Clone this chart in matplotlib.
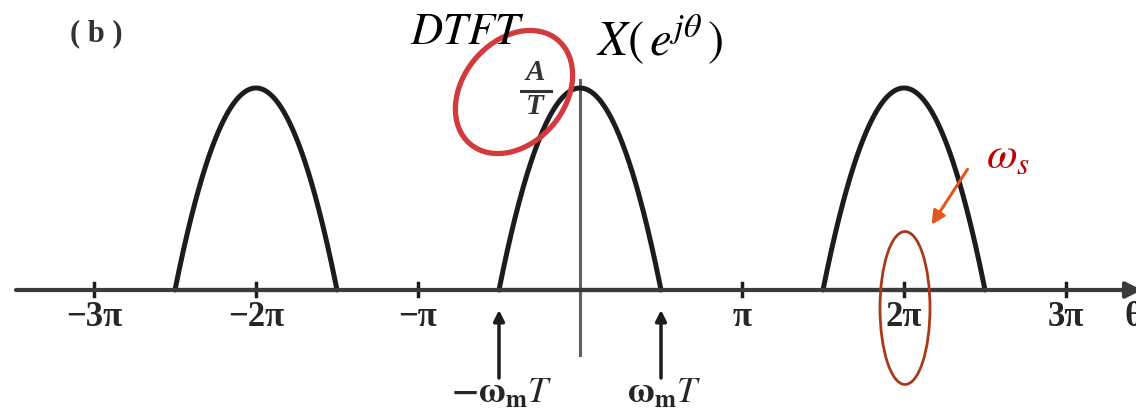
import numpy as np
import matplotlib
matplotlib.use("Agg")
import matplotlib.pyplot as plt
from matplotlib.patches import Ellipse, FancyArrowPatch

plt.rcParams["mathtext.fontset"] = "stix"

# spectrum: replicas of the baseband hump, centres in units of pi
centres = [-2.0, 0.0, 2.0]
peak = 1.0            # A/T
half_width = 0.5      # omega_m T, in units of pi
tick_pos = [-3, -2, -1, 1, 2, 3]
tick_txt = ["\u22123\u03c0", "\u22122\u03c0", "\u2212\u03c0", "\u03c0", "2\u03c0", "3\u03c0"]

W, H = 1136, 411
fig = plt.figure(figsize=(W / 100, H / 100), dpi=100)
ax = fig.add_axes([0, 0, 1, 1])
px_x, px_y = 162.0, 202.0          # pixels per pi, pixels per A/T
x0, y0 = 580.0, 290.0              # origin in pixels (from top-left)
ax.set_xlim(-x0 / px_x, (W - x0) / px_x)
ax.set_ylim(-(H - y0) / px_y, y0 / px_y)
ax.axis("off")

ink = "#1c1c1c"
serif = "Liberation Serif"
# horizontal axis with arrow
ax.annotate("", xy=((W + 6 - x0) / px_x, 0), xytext=((16 - x0) / px_x, 0),
            annotation_clip=False,
            arrowprops=dict(arrowstyle="-|>", color="#3a3a3a", lw=3,
                            mutation_scale=24, shrinkA=0, shrinkB=0))
# vertical axis
ax.plot([0, 0], [-65 / px_y, (y0 - 80) / px_y], color="#606060", lw=2.2)

# humps
for c in centres:
    t = np.linspace(-half_width, half_width, 200)
    y = peak * (1 - (t / half_width) ** 2)
    ax.plot(c + t, y, color=ink, lw=3.6, solid_capstyle="round")
    ax.plot([c - half_width, c + half_width], [0, 0], color=ink, lw=3)

# ticks and labels
for p, s in zip(tick_pos, tick_txt):
    ax.plot([p, p], [-6 / px_y, 7 / px_y], color=ink, lw=2.5)
    ax.text(p, -11 / px_y, s, ha="center", va="top", fontsize=25,
            fontfamily=serif, fontweight="bold", color="#262626")
ax.text((1124 - x0) / px_x, -11 / px_y, "\u03b8", ha="left", va="top",
        fontsize=25, fontfamily=serif, fontweight="bold", color="#262626")

# omega_m T markers
for sgn, lab, lx in [(-1, r"$\mathbf{-\omega_m}\mathbf{\mathit{T}}$", 502),
                     (1, r"$\mathbf{\omega_m}\mathbf{\mathit{T}}$", 664)]:
    ax.annotate("", xy=(sgn * half_width, -20 / px_y), xytext=(sgn * half_width, -88 / px_y),
                arrowprops=dict(arrowstyle="-|>", color=ink, lw=2.5,
                                mutation_scale=16, shrinkA=0, shrinkB=0))
    ax.text((lx - x0) / px_x, -103 / px_y, lab, ha="center", va="center",
            fontsize=26, color="#262626")

# peak label A/T
ax.text((535 - x0) / px_x, (y0 - 72) / px_y, "A", ha="center", va="center",
        fontsize=21, fontfamily=serif, fontweight="bold", fontstyle="italic", color="#333333")
ax.plot([(521 - x0) / px_x, (551 - x0) / px_x], [(y0 - 91) / px_y] * 2, color="#333333", lw=2.2)
ax.text((535 - x0) / px_x, (y0 - 106) / px_y, "T", ha="center", va="center",
        fontsize=21, fontfamily=serif, fontweight="bold", fontstyle="italic", color="#333333")

# titles / captions
fig.text(96 / W, 1 - 34 / H, "( b )", ha="center", va="center", fontsize=22,
         fontfamily=serif, fontweight="bold", color="#333333")
fig.text(467 / W, 1 - 32 / H, r"$DTFT$", ha="center", va="center", fontsize=32, color="black")
fig.text(660 / W, 1 - 40 / H, r"$X\left(\,e^{j\theta}\,\right)$", ha="center", va="center",
         fontsize=35, color="black")
fig.text(1008 / W, 1 - 156 / H, r"$\omega_s$", ha="center", va="center",
         fontsize=32, color="#c00000")

# hand-drawn style highlights in pixel coordinates
ov = fig.add_axes([0, 0, 1, 1])
ov.set_xlim(0, W)
ov.set_ylim(0, H)
ov.axis("off")
ov.add_patch(Ellipse((514, H - 92), 136, 102, angle=50, fill=False,
                     ec="#d23a3e", lw=3.8))
ov.add_patch(Ellipse((905, H - 308), 50, 153, fill=False, ec="#a83a1a", lw=2))
ov.add_patch(FancyArrowPatch((969, H - 167), (930, H - 227), arrowstyle="-|>",
                             mutation_scale=20, color="#e0561e", lw=2.2))

fig.savefig("out.png", dpi=100)
